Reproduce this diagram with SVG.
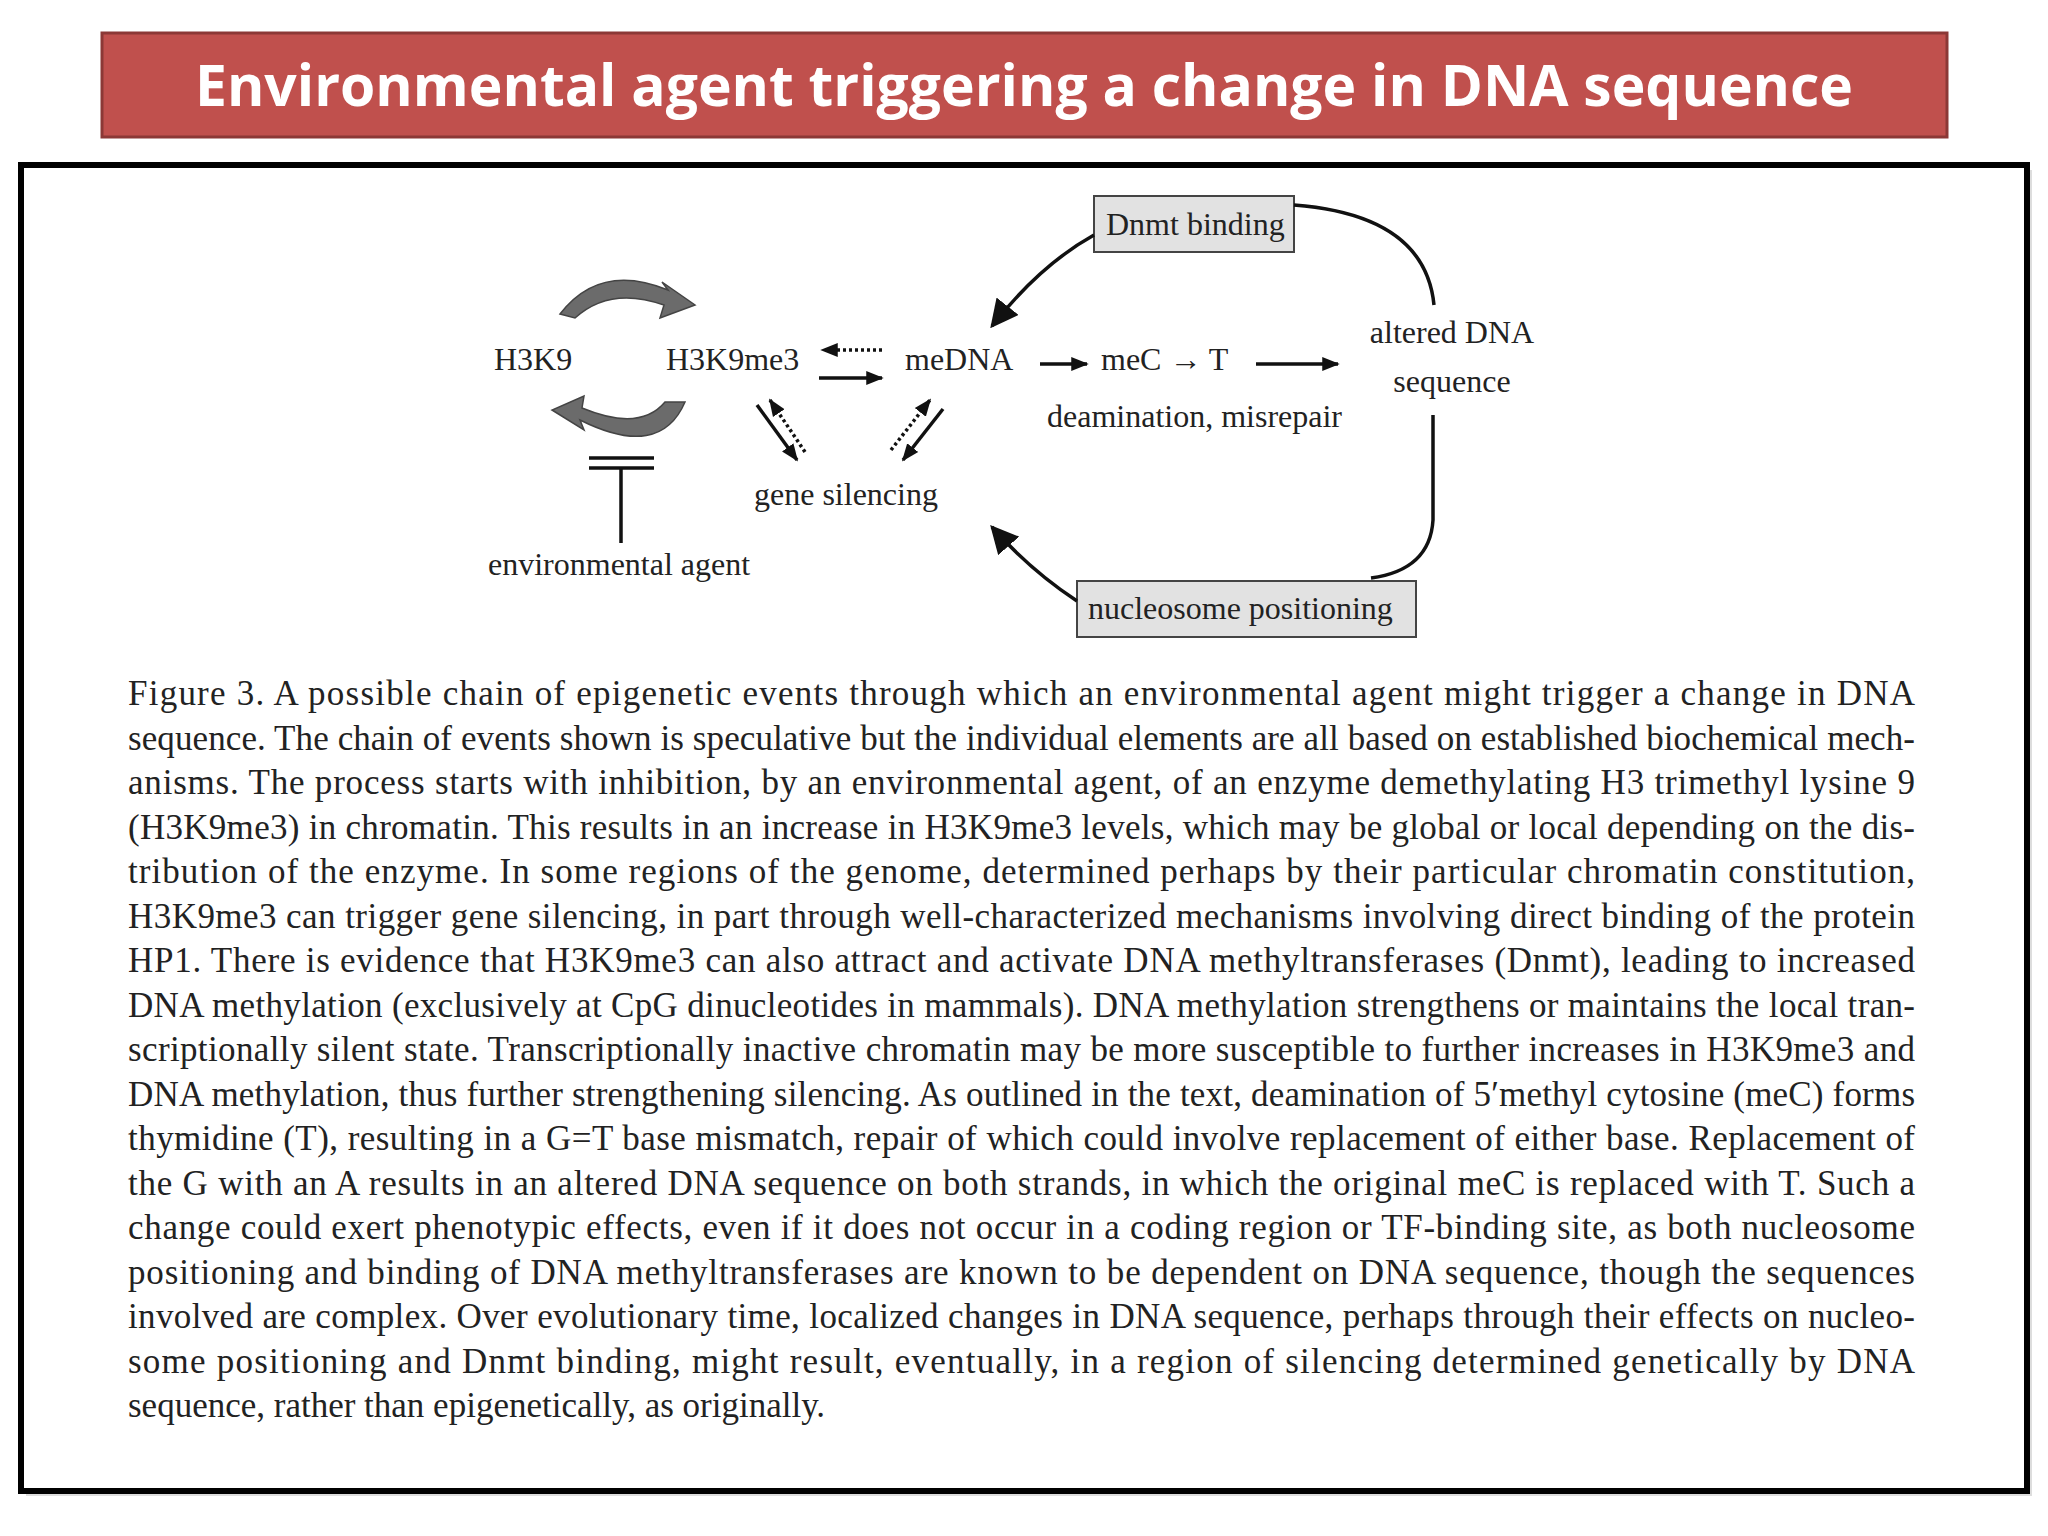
<svg xmlns="http://www.w3.org/2000/svg" width="2048" height="1536" viewBox="0 0 2048 1536">
<style>
.t{font-family:"Liberation Serif",serif;font-size:32px;fill:#222}
.c{font-family:"Liberation Serif",serif;font-size:35px;fill:#222}
.ln{stroke:#111;stroke-width:3.5;fill:none}
.dt{stroke:#111;stroke-width:3.5;fill:none;stroke-dasharray:3 3}
</style>
<defs>
<marker id="ah" viewBox="0 0 10 10" refX="9" refY="5" markerWidth="5" markerHeight="5" orient="auto"><path d="M0,1 L10,5 L0,9 Z" fill="#111"/></marker>
<marker id="ahb" viewBox="0 0 10 10" refX="9" refY="5" markerWidth="8" markerHeight="8" orient="auto"><path d="M0,0 L10,5 L0,10 Z" fill="#111"/></marker>
</defs>
<rect width="2048" height="1536" fill="#fff"/>
<g id="title">
<rect x="102" y="33" width="1845" height="104" fill="#c0504d" stroke="#8c3836" stroke-width="3"/>
<text x="1024" y="106" text-anchor="middle" font-family="'Open Sans',sans-serif" font-weight="bold" font-size="57" fill="#fff">Environmental agent triggering a change in DNA sequence</text>
</g>
<rect x="26" y="170" width="2006" height="1326" fill="#bbb" opacity="0.5"/>
<rect x="21" y="165" width="2006" height="1326" fill="#fff" stroke="#000" stroke-width="6"/>
<g id="nodes">
<g id="H3K9"><text class="t" x="494" y="370">H3K9</text></g>
<g id="H3K9me3"><text class="t" x="666" y="370">H3K9me3</text></g>
<g id="meDNA"><text class="t" x="905" y="370">meDNA</text></g>
<g id="meC"><text class="t" x="1101" y="370">meC → T</text></g>
<g id="deam"><text class="t" x="1047" y="427">deamination, misrepair</text></g>
<g id="altered"><text class="t" x="1452" y="343" text-anchor="middle">altered DNA</text><text class="t" x="1452" y="392" text-anchor="middle">sequence</text></g>
<g id="gene"><text class="t" x="754" y="505">gene silencing</text></g>
<g id="env"><text class="t" x="488" y="575">environmental agent</text></g>
<g id="dnmt"><rect x="1094" y="196" width="200" height="56" fill="#e2e2e2" stroke="#444" stroke-width="2"/><text class="t" x="1106" y="235">Dnmt binding</text></g>
<g id="nuc"><rect x="1077" y="581" width="339" height="56" fill="#e2e2e2" stroke="#444" stroke-width="2"/><text class="t" x="1088" y="619">nucleosome positioning</text></g>
</g>
<g id="connectors">
<line class="ln" x1="819" y1="378" x2="882" y2="378" marker-end="url(#ah)"/>
<line class="dt" x1="882" y1="350" x2="822" y2="350" marker-end="url(#ah)"/>
<line class="ln" x1="1040" y1="364" x2="1087" y2="364" marker-end="url(#ah)"/>
<line class="ln" x1="1256" y1="364" x2="1338" y2="364" marker-end="url(#ah)"/>
<line class="ln" x1="757" y1="405" x2="797" y2="460" marker-end="url(#ah)"/>
<line class="dt" x1="805" y1="452" x2="770" y2="400" marker-end="url(#ah)"/>
<line class="ln" x1="943" y1="409" x2="903" y2="460" marker-end="url(#ah)"/>
<line class="dt" x1="891" y1="450" x2="930" y2="400" marker-end="url(#ah)"/>
<path class="ln" d="M1094,235 Q1040,265 992,326" marker-end="url(#ahb)"/>
<path class="ln" d="M1294,205 Q1425,215 1434,305"/>
<path class="ln" d="M1433,415 L1433,520 Q1430,570 1371,578"/>
<path class="ln" d="M1077,601 Q1030,570 992,527" marker-end="url(#ahb)"/>
<path d="M560,314 Q600,262 668,290 L662,282 L695,305 L660,318 L664,305 Q610,286 575,318 Z" fill="#6b6b6b" stroke="#444" stroke-width="1.5"/>
<path d="M685,402 Q660,460 580,420 L584,430 L552,410 L584,396 L582,408 Q640,432 665,402 Z" fill="#6b6b6b" stroke="#444" stroke-width="1.5"/>
<line class="ln" x1="589" y1="458" x2="654" y2="458"/>
<line class="ln" x1="589" y1="468" x2="654" y2="468"/>
<line class="ln" x1="621" y1="468" x2="621" y2="543"/>
</g>
<g id="caption" class="c">
<text x="128" y="705" textLength="1787" lengthAdjust="spacing">Figure 3. A possible chain of epigenetic events through which an environmental agent might trigger a change in DNA</text>
<text x="128" y="749.5" textLength="1787" lengthAdjust="spacing">sequence. The chain of events shown is speculative but the individual elements are all based on established biochemical mech-</text>
<text x="128" y="794" textLength="1787" lengthAdjust="spacing">anisms. The process starts with inhibition, by an environmental agent, of an enzyme demethylating H3 trimethyl lysine 9</text>
<text x="128" y="838.5" textLength="1787" lengthAdjust="spacing">(H3K9me3) in chromatin. This results in an increase in H3K9me3 levels, which may be global or local depending on the dis-</text>
<text x="128" y="883" textLength="1787" lengthAdjust="spacing">tribution of the enzyme. In some regions of the genome, determined perhaps by their particular chromatin constitution,</text>
<text x="128" y="927.5" textLength="1787" lengthAdjust="spacing">H3K9me3 can trigger gene silencing, in part through well-characterized mechanisms involving direct binding of the protein</text>
<text x="128" y="972" textLength="1787" lengthAdjust="spacing">HP1. There is evidence that H3K9me3 can also attract and activate DNA methyltransferases (Dnmt), leading to increased</text>
<text x="128" y="1016.5" textLength="1787" lengthAdjust="spacing">DNA methylation (exclusively at CpG dinucleotides in mammals). DNA methylation strengthens or maintains the local tran-</text>
<text x="128" y="1061" textLength="1787" lengthAdjust="spacing">scriptionally silent state. Transcriptionally inactive chromatin may be more susceptible to further increases in H3K9me3 and</text>
<text x="128" y="1105.5" textLength="1787" lengthAdjust="spacing">DNA methylation, thus further strengthening silencing. As outlined in the text, deamination of 5′methyl cytosine (meC) forms</text>
<text x="128" y="1150" textLength="1787" lengthAdjust="spacing">thymidine (T), resulting in a G=T base mismatch, repair of which could involve replacement of either base. Replacement of</text>
<text x="128" y="1194.5" textLength="1787" lengthAdjust="spacing">the G with an A results in an altered DNA sequence on both strands, in which the original meC is replaced with T. Such a</text>
<text x="128" y="1239" textLength="1787" lengthAdjust="spacing">change could exert phenotypic effects, even if it does not occur in a coding region or TF-binding site, as both nucleosome</text>
<text x="128" y="1283.5" textLength="1787" lengthAdjust="spacing">positioning and binding of DNA methyltransferases are known to be dependent on DNA sequence, though the sequences</text>
<text x="128" y="1328" textLength="1787" lengthAdjust="spacing">involved are complex. Over evolutionary time, localized changes in DNA sequence, perhaps through their effects on nucleo-</text>
<text x="128" y="1372.5" textLength="1787" lengthAdjust="spacing">some positioning and Dnmt binding, might result, eventually, in a region of silencing determined genetically by DNA</text>
<text x="128" y="1417">sequence, rather than epigenetically, as originally.</text>
</g>
</svg>
